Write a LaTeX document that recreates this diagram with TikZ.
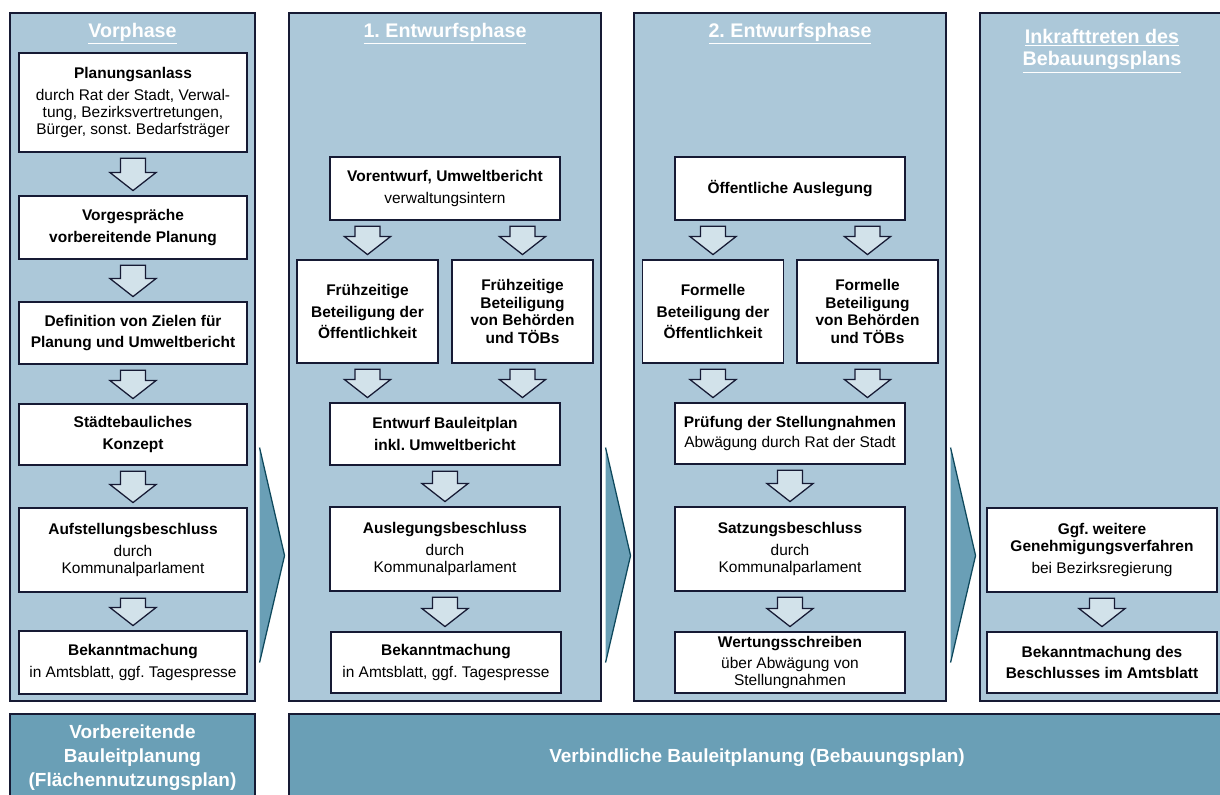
\documentclass[tikz,border=0pt]{standalone}
\usepackage{fontspec}
\setmainfont{Liberation Sans}
\usepackage{tikz}
\usetikzlibrary{calc}
\pgfdeclarelayer{bg}
\pgfsetlayers{bg,main}
\frenchspacing

\definecolor{phasefill}{RGB}{172,200,217}
\definecolor{bannerfill}{RGB}{106,159,182}
\definecolor{arrowfill}{RGB}{210,226,234}
\definecolor{frame}{RGB}{22,26,52}
\definecolor{chevline}{RGB}{14,72,92}

\tikzset{
  phase/.style={draw=frame, line width=0.8pt, fill=phasefill, minimum width=#1, minimum height=17.2cm, inner sep=0pt},
  head/.style={text=white, font=\bfseries\fontsize{14}{16}\selectfont, align=center},
  stepbox/.style={draw=frame, line width=0.9pt, fill=white, text=black, align=center, inner sep=0pt, font=\fontsize{11}{15.5}\selectfont},
  wide/.style={stepbox, minimum width=5.75cm},
  narrow/.style={stepbox, minimum width=3.525cm, minimum height=2.575cm},
  banner/.style={draw=frame, line width=0.8pt, fill=bannerfill, text=white, align=center, inner sep=0pt, minimum height=2.2cm, font=\bfseries\fontsize{13.5}{17}\selectfont},
  blockarrow/.style={draw=frame, line width=0.9pt, fill=arrowfill, line join=miter}
}

\newcommand{\flowarrow}[3]{%
  \draw[blockarrow] ($(#1.south -| #3)+(-.31,-.14)$) -- ($(#1.south -| #3)+(.31,-.14)$)
    -- ($(#2.north -| #3)+(.31,.57)$) -- ($(#2.north -| #3)+(.575,.57)$)
    -- ($(#2.north -| #3)+(0,.12)$) -- ($(#2.north -| #3)+(-.575,.57)$)
    -- ($(#2.north -| #3)+(-.31,.57)$) -- cycle;}
\newcommand{\phasearrow}[1]{%
  \fill[bannerfill] ($(#1.south east)+(.1,.975)$) -- ($(#1.south east)+(.1,6.35)$) -- ($(#1.south east)+(.725,3.65)$) -- cycle;
  \draw[chevline, line width=0.9pt] ($(#1.south east)+(.1,6.35)$) -- ($(#1.south east)+(.725,3.65)$) -- ($(#1.south east)+(.1,.975)$);}

\begin{document}
\begin{tikzpicture}
  \useasboundingbox (0,0) rectangle (30.5,-19.85);

  \begin{pgfonlayer}{bg}    % phases and banners
    \node [phase=6.125cm] (vorphase) at (3.3125,-8.925) {};
    \node [phase=7.8cm] (entwurf1) at (11.125,-8.925) {};
    \node [phase=7.8cm] (entwurf2) at (19.75,-8.925) {};
    \node [phase=6.125cm] (inkraft) at (27.5625,-8.925) {};
    \node [banner, minimum width=6.125cm] (fnp) at (3.3125,-18.95) {Vorbereitende\\Bauleitplanung\\(Flächennutzungsplan)};
    \node [banner, minimum width=23.4cm] (bplan) at (18.925,-18.95) {Verbindliche Bauleitplanung (Bebauungsplan)};
  \end{pgfonlayer}

  \node [head] (hvor) at (3.3125,-0.85) {\underline{Vorphase}};
  \node [head] (hent1) at (11.125,-0.85) {\underline{1. Entwurfsphase}};
  \node [head] (hent2) at (19.75,-0.85) {\underline{2. Entwurfsphase}};
  \node [head] (hinkraft) at (27.55,-1.275) {\underline{Inkrafttreten des}\\\underline{Bebauungsplans}};

  % Vorphase
  \node [stepbox, minimum width=5.7cm, minimum height=2.475cm] (anlass) at (3.325,-2.5625) {\textbf{Planungsanlass}\\durch Rat der Stadt, Verwal-\\[-3.5pt]tung, Bezirksvertretungen,\\[-3.5pt]Bürger, sonst. Bedarfsträger};
  \node [stepbox, minimum width=5.7cm, minimum height=1.575cm] (vorgespr) at (3.325,-5.6875) {\textbf{Vorgespräche}\\\textbf{vorbereitende Planung}};
  \node [stepbox, minimum width=5.7cm, minimum height=1.55cm] (ziele) at (3.325,-8.325) {\textbf{Definition von Zielen für}\\\textbf{Planung und Umweltbericht}};
  \node [stepbox, minimum width=5.7cm, minimum height=1.525cm] (konzept) at (3.325,-10.8625) {\textbf{Städtebauliches}\\\textbf{Konzept}};
  \node [stepbox, minimum width=5.7cm, minimum height=2.1cm] (aufstell) at (3.325,-13.75) {\textbf{Aufstellungsbeschluss}\\durch\\[-3.5pt]Kommunalparlament};
  \node [stepbox, minimum width=5.7cm, minimum height=1.575cm] (bekannt1) at (3.325,-16.5625) {\textbf{Bekanntmachung}\\in Amtsblatt, ggf. Tagespresse};

  % 1. Entwurfsphase
  \node [wide, minimum height=1.575cm] (vorentw) at (11.125,-4.7125) {\textbf{Vorentwurf, Umweltbericht}\\verwaltungsintern};
  \node [narrow] (frueh1) at (9.1875,-7.7875) {\textbf{Frühzeitige}\\\textbf{Beteiligung der}\\\textbf{Öffentlichkeit}};
  \node [narrow] (frueh2) at (13.0625,-7.7875) {\textbf{Frühzeitige}\\[-3pt]\textbf{Beteiligung}\\[-3pt]\textbf{von Behörden}\\[-3pt]\textbf{und TÖBs}};
  \node [wide, minimum height=1.55cm] (entwurf) at (11.125,-10.85) {\textbf{Entwurf Bauleitplan}\\\textbf{inkl. Umweltbericht}};
  \node [wide, minimum height=2.1cm] (ausleg) at (11.125,-13.725) {\textbf{Auslegungsbeschluss}\\durch\\[-3.5pt]Kommunalparlament};
  \node [wide, minimum height=1.525cm] (bekannt2) at (11.15,-16.5625) {\textbf{Bekanntmachung}\\in Amtsblatt, ggf. Tagespresse};

  % 2. Entwurfsphase
  \node [wide, minimum height=1.575cm] (auslegung) at (19.75,-4.7125) {\textbf{Öffentliche Auslegung}};
  \node [narrow] (formell1) at (17.825,-7.7875) {\textbf{Formelle}\\\textbf{Beteiligung der}\\\textbf{Öffentlichkeit}};
  \node [narrow] (formell2) at (21.6875,-7.7875) {\textbf{Formelle}\\[-3pt]\textbf{Beteiligung}\\[-3pt]\textbf{von Behörden}\\[-3pt]\textbf{und TÖBs}};
  \node [wide, minimum height=1.525cm] (pruefung) at (19.75,-10.8375) {\textbf{Prüfung der Stellungnahmen}\\[-1pt]Abwägung durch Rat der Stadt};
  \node [wide, minimum height=2.1cm] (satzung) at (19.75,-13.725) {\textbf{Satzungsbeschluss}\\durch\\[-3.5pt]Kommunalparlament};
  \node [wide, minimum height=1.525cm] (wertung) at (19.75,-16.5625) {\textbf{Wertungsschreiben}\\[-0.5pt]über Abwägung von\\[-3.5pt]Stellungnahmen};

  % Inkrafttreten
  \node [wide, minimum height=2.1cm] (genehm) at (27.55,-13.75) {\textbf{Ggf. weitere}\\[-3.5pt]\textbf{Genehmigungsverfahren}\\bei Bezirksregierung};
  \node [wide, minimum height=1.525cm] (bekannt4) at (27.55,-16.5625) {\textbf{Bekanntmachung des}\\\textbf{Beschlusses im Amtsblatt}};

  \flowarrow{anlass}{vorgespr}{anlass}
  \flowarrow{vorgespr}{ziele}{vorgespr}
  \flowarrow{ziele}{konzept}{ziele}
  \flowarrow{konzept}{aufstell}{konzept}
  \flowarrow{aufstell}{bekannt1}{aufstell}

  \flowarrow{vorentw}{frueh1}{frueh1}
  \flowarrow{vorentw}{frueh2}{frueh2}
  \flowarrow{frueh1}{entwurf}{frueh1}
  \flowarrow{frueh2}{entwurf}{frueh2}
  \flowarrow{entwurf}{ausleg}{entwurf}
  \flowarrow{ausleg}{bekannt2}{ausleg}

  \flowarrow{auslegung}{formell1}{formell1}
  \flowarrow{auslegung}{formell2}{formell2}
  \flowarrow{formell1}{pruefung}{formell1}
  \flowarrow{formell2}{pruefung}{formell2}
  \flowarrow{pruefung}{satzung}{pruefung}
  \flowarrow{satzung}{wertung}{satzung}

  \flowarrow{genehm}{bekannt4}{genehm}

  \phasearrow{vorphase}
  \phasearrow{entwurf1}
  \phasearrow{entwurf2}
\end{tikzpicture}
\end{document}
